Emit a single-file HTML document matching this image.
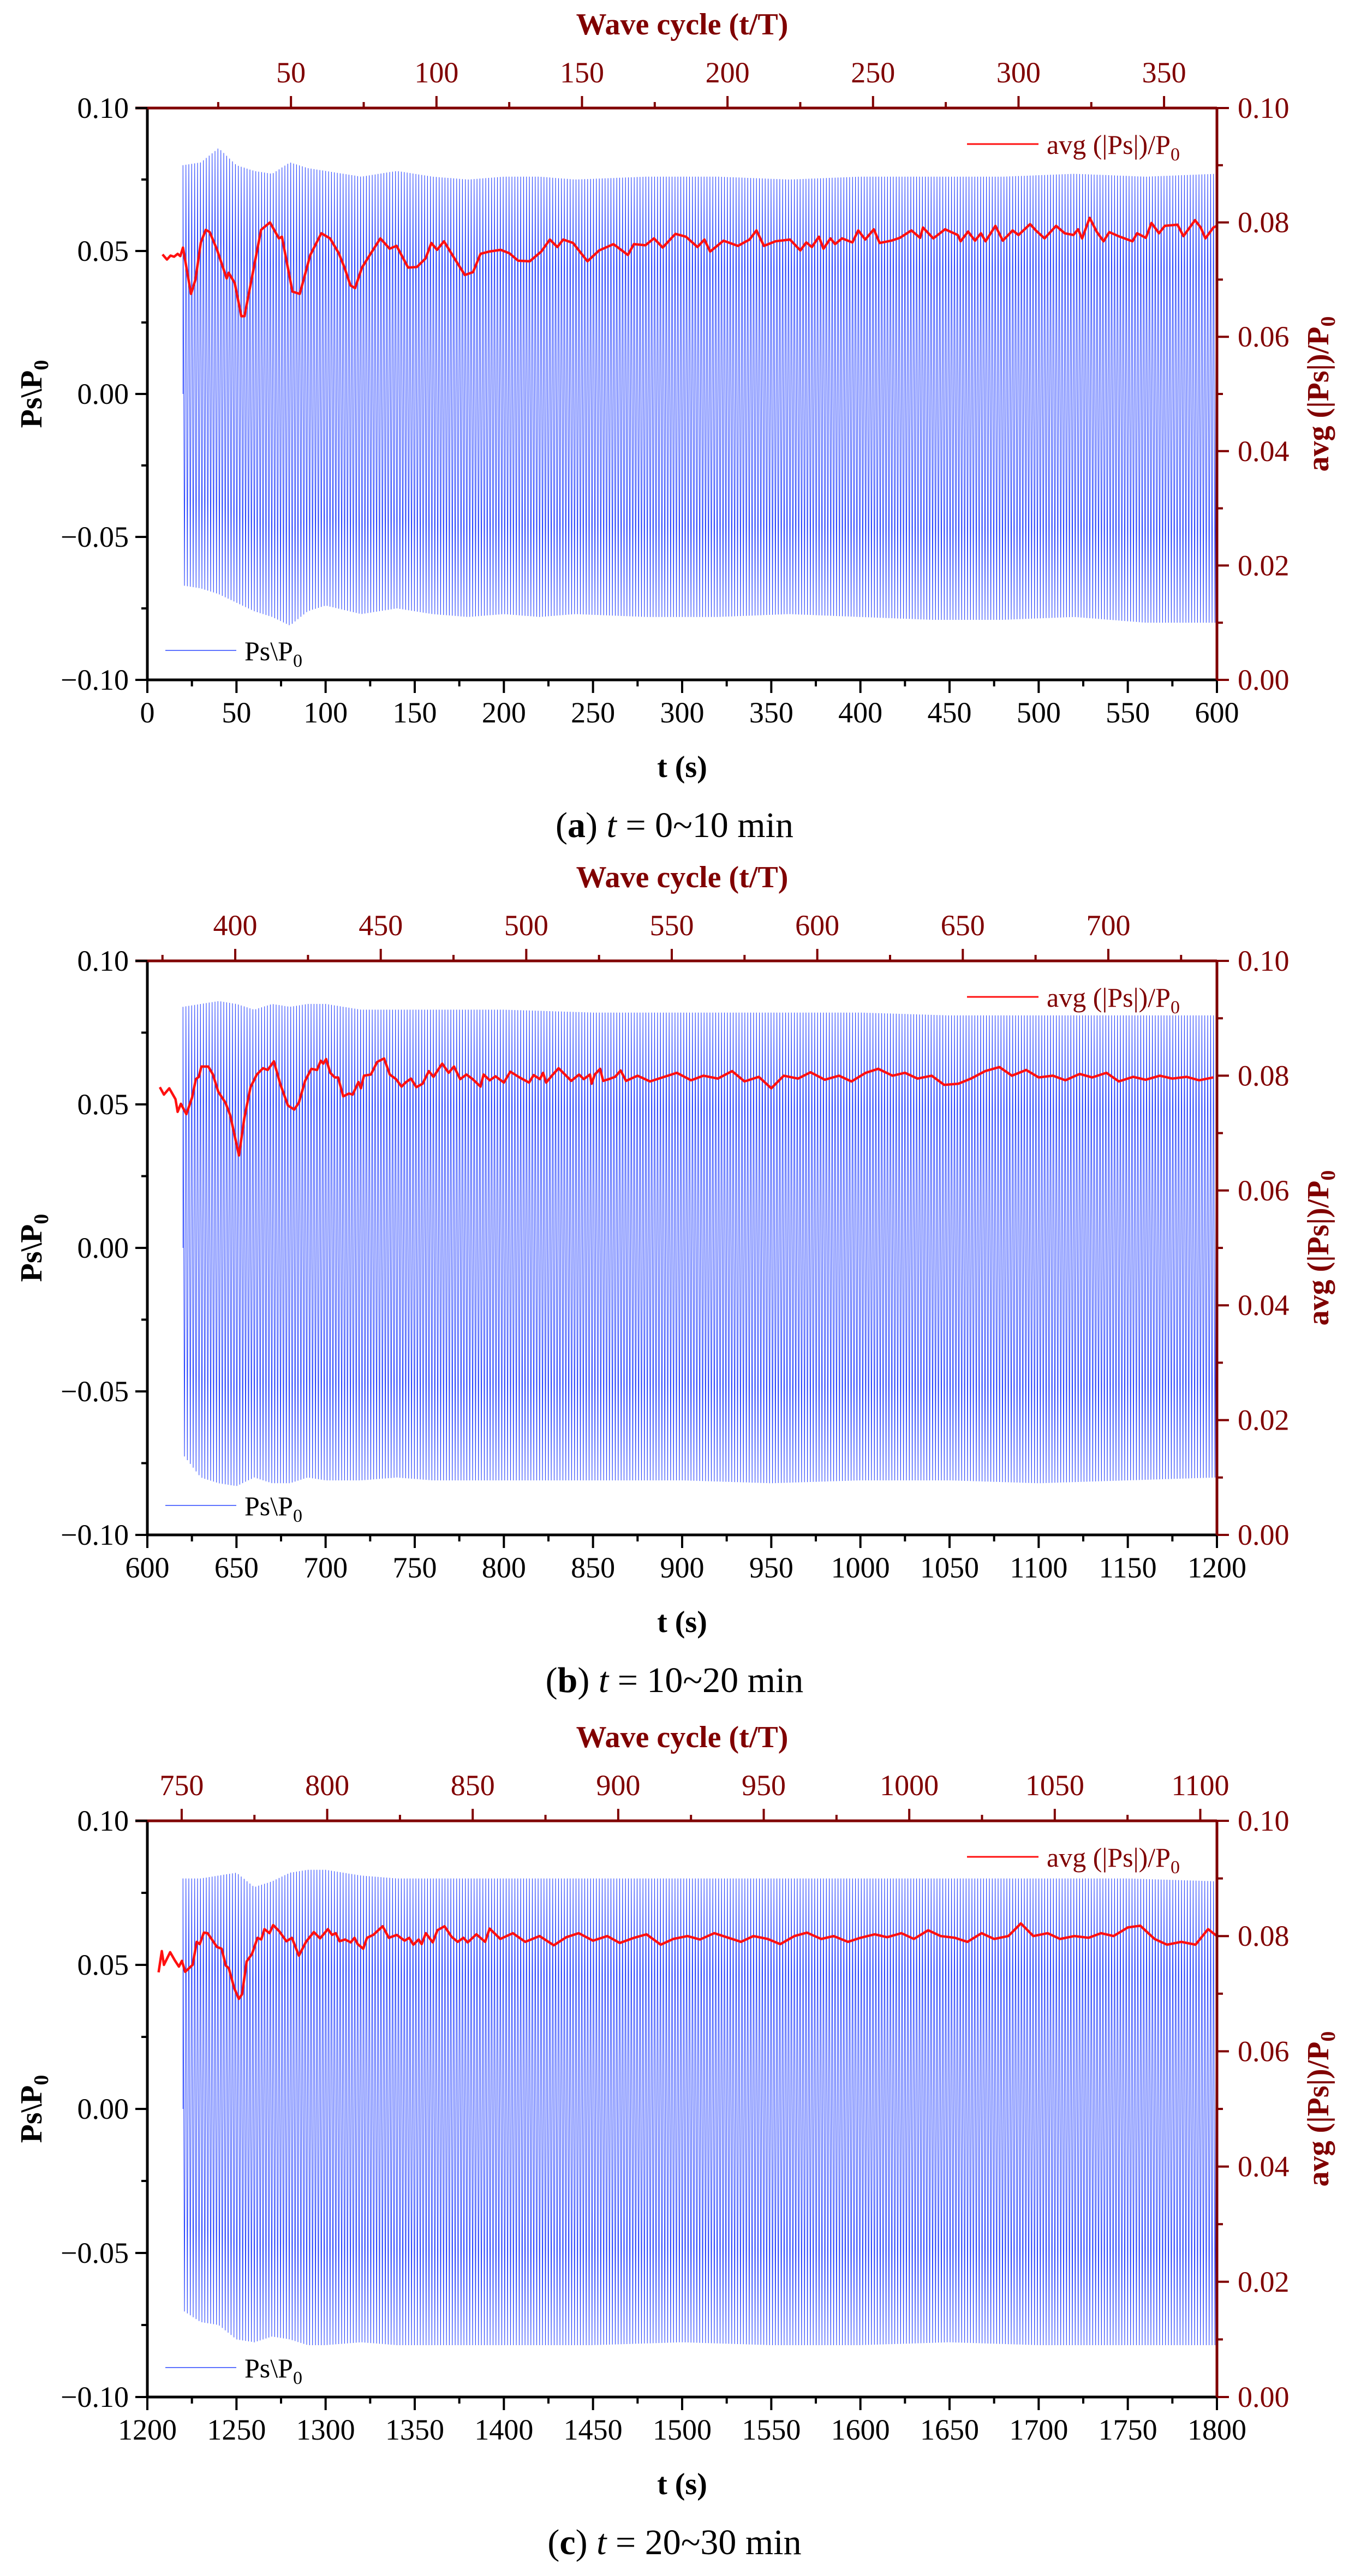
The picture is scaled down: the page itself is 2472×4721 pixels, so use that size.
<!DOCTYPE html>
<html><head><meta charset="utf-8"><style>
html,body{margin:0;padding:0;background:#fff}
svg{display:block}
text{font-family:"Liberation Serif",serif}
</style></head><body>
<svg id="fig" width="2472" height="4721" viewBox="0 0 2472 4721" xmlns="http://www.w3.org/2000/svg"></svg>
<script>
// ---------- data ----------
const periodT = 1.633;
// Panel (a)
const aAvgT = [8.5,11,13,15,17,18.5,20,24.5,27,30,32.8,35,39,44.5,45.6,49,52.7,54.5,63.8,68.8,73.8,75.5,81.4,85.5,91.4,97.6,102.5,107.4,110.6,113.9,116.5,120.4,125.2,130.7,135.9,139.8,146.3,151.2,156.1,159.3,162.5,166.4,172.3,178.1,182.7,186.9,191.8,198.2,203.1,208,214.5,221,225.8,230,233.3,238.8,246.9,253.4,261.5,269.6,272.9,279.4,284.2,289.1,296.2,302.1,308.6,312.5,315.7,323.2,331.3,337.8,341.7,345.9,352.4,360.5,366.3,369.6,372.8,376.7,379.3,383.2,385.8,389.7,395.5,398.8,402.7,407.5,410.8,417.3,422.1,428.6,433.5,435.1,440.9,447.5,454.6,456.2,460.4,464.3,467.6,470.2,475.7,479.9,485.4,488.7,495.2,498.4,503.3,509.8,514.6,519.5,522.1,524.4,528.6,532.5,536.4,539.6,545.5,552.6,555.2,560.1,563.3,567.5,570.8,577.9,581.2,587.7,590.9,593.5,598,600];
const aAvgV = [0.0744,0.0735,0.0742,0.0740,0.0745,0.0741,0.0756,0.0675,0.0700,0.0765,0.0787,0.0783,0.0753,0.0702,0.0712,0.0694,0.0636,0.0636,0.0787,0.0800,0.0772,0.0775,0.0679,0.0675,0.0743,0.0781,0.0772,0.0746,0.0721,0.0690,0.0685,0.0721,0.0745,0.0772,0.0754,0.0759,0.0721,0.0722,0.0737,0.0764,0.0752,0.0767,0.0737,0.0708,0.0713,0.0745,0.0749,0.0752,0.0746,0.0733,0.0732,0.0749,0.0770,0.0757,0.0770,0.0764,0.0732,0.0751,0.0762,0.0743,0.0762,0.0760,0.0772,0.0756,0.0780,0.0775,0.0757,0.0770,0.0749,0.0768,0.0759,0.0770,0.0786,0.0759,0.0767,0.0770,0.0751,0.0765,0.0757,0.0775,0.0754,0.0772,0.0762,0.0772,0.0765,0.0786,0.0770,0.0788,0.0764,0.0768,0.0773,0.0786,0.0773,0.0791,0.0772,0.0788,0.0778,0.0767,0.0784,0.0768,0.0781,0.0767,0.0794,0.0768,0.0786,0.0778,0.0797,0.0786,0.0772,0.0794,0.0781,0.0778,0.0788,0.0772,0.0808,0.0784,0.0767,0.0783,0.0775,0.0767,0.0781,0.0773,0.0799,0.0781,0.0794,0.0796,0.0776,0.0804,0.0791,0.0772,0.0791,0.0794];
const aEnvT = [20,30,40,50,60,70,80,90,100,120,140,160,180,200,220,240,280,320,360,400,440,480,520,560,600];
const aUpper = [0.080,0.081,0.086,0.080,0.078,0.077,0.081,0.079,0.078,0.076,0.078,0.076,0.075,0.076,0.076,0.075,0.076,0.076,0.075,0.076,0.076,0.076,0.077,0.076,0.077];
const aLower = [-0.067,-0.068,-0.070,-0.073,-0.076,-0.078,-0.081,-0.076,-0.074,-0.077,-0.075,-0.077,-0.078,-0.077,-0.078,-0.077,-0.078,-0.078,-0.077,-0.078,-0.079,-0.079,-0.078,-0.080,-0.080];
// Panel (b)
const bAvgT = [607,609.3,612.3,615.8,617,618.8,621.9,625.1,627.2,628.9,630.3,634.2,636.8,639.8,643.8,646.5,651.4,654.4,657.9,661.4,664.9,667.5,671,674.5,678.9,682.4,685,688.5,692,695.2,697.3,698.7,700.3,702.6,705.2,707,709.9,713.1,715.2,718.4,719.8,721.5,725.4,728.9,732.8,736,739.5,742.6,744.8,747.9,750.9,754.4,757.9,760.5,765.4,769,772,775.5,779,782.5,786.9,788.6,792.1,795.3,800,803.6,808.8,814.1,816.7,820.2,822,823.7,827.2,830.7,837.8,842.2,844.8,848.3,849.2,851,854,855.7,858.9,862.4,865.5,868.5,875,882,890,897,905,912,920,928,935,943,950,957,965,972,980,988,995,1003,1010,1018,1025,1032,1040,1047,1055,1062,1070,1078,1085,1093,1100,1108,1115,1123,1130,1138,1145,1153,1160,1168,1175,1183,1190,1198];
const bAvgV = [0.0780,0.0767,0.0778,0.0759,0.0737,0.0751,0.0733,0.0762,0.0794,0.0798,0.0816,0.0816,0.0802,0.0772,0.0753,0.0731,0.0661,0.0726,0.0780,0.0802,0.0813,0.0810,0.0825,0.0786,0.0748,0.0741,0.0753,0.0791,0.0812,0.0810,0.0826,0.0821,0.0829,0.0805,0.0797,0.0797,0.0764,0.0769,0.0767,0.0789,0.0778,0.0800,0.0802,0.0824,0.0830,0.0802,0.0794,0.0781,0.0788,0.0795,0.0780,0.0786,0.0808,0.0798,0.0821,0.0805,0.0816,0.0794,0.0802,0.0794,0.0781,0.0802,0.0792,0.0799,0.0788,0.0807,0.0797,0.0788,0.0801,0.0794,0.0805,0.0788,0.0801,0.0813,0.0791,0.0802,0.0794,0.0802,0.0786,0.0802,0.0812,0.0791,0.0794,0.0798,0.0809,0.0791,0.0800,0.0790,0.0798,0.0805,0.0792,0.0800,0.0795,0.0808,0.0790,0.0798,0.0778,0.0800,0.0795,0.0806,0.0793,0.0800,0.0790,0.0805,0.0812,0.0800,0.0805,0.0795,0.0800,0.0784,0.0786,0.0795,0.0808,0.0815,0.0800,0.0810,0.0797,0.0800,0.0792,0.0803,0.0797,0.0805,0.0790,0.0798,0.0793,0.0800,0.0795,0.0798,0.0792,0.0797];
const bEnvT = [620,630,640,650,660,670,680,690,700,720,740,760,800,850,900,950,1000,1050,1100,1150,1200];
const bUpper = [0.084,0.085,0.086,0.085,0.083,0.085,0.084,0.085,0.085,0.083,0.083,0.083,0.083,0.082,0.082,0.082,0.082,0.081,0.081,0.081,0.081];
const bLower = [-0.072,-0.080,-0.082,-0.083,-0.080,-0.082,-0.082,-0.080,-0.081,-0.081,-0.080,-0.081,-0.081,-0.081,-0.081,-0.082,-0.081,-0.081,-0.082,-0.081,-0.080];
// Panel (c)
const cAvgT = [1206.3,1208.1,1209.3,1212.8,1215.4,1217.7,1219.4,1221.2,1225.4,1227.7,1229.4,1231.7,1233.8,1239.1,1241.7,1244,1245.7,1248.7,1251.3,1253.1,1255.7,1258.7,1261.8,1263.9,1265.7,1268.5,1270.6,1274.1,1278,1281.1,1285,1289,1293.4,1296.9,1301.3,1303.6,1305.7,1307.8,1310.9,1314.1,1316.2,1318,1321.1,1323.2,1326.7,1332,1335.5,1339.9,1344.3,1346.9,1349.2,1352.2,1353.9,1356.2,1360.1,1362.7,1366.7,1370.6,1374.1,1377.3,1379.7,1384.6,1389.5,1392,1398,1405,1412,1420,1428,1435,1442,1450,1458,1465,1473,1480,1488,1495,1503,1510,1518,1525,1533,1540,1548,1555,1563,1570,1578,1585,1593,1600,1608,1615,1623,1630,1638,1645,1653,1660,1668,1675,1683,1690,1697,1705,1712,1720,1728,1735,1742,1750,1757,1765,1772,1780,1788,1795,1800];
const cAvgV = [0.0737,0.0774,0.0750,0.0772,0.0758,0.0747,0.0757,0.0738,0.0750,0.0790,0.0786,0.0806,0.0805,0.0781,0.0778,0.0749,0.0744,0.0710,0.0691,0.0699,0.0756,0.0769,0.0797,0.0794,0.0812,0.0805,0.0819,0.0808,0.0791,0.0797,0.0766,0.0790,0.0807,0.0796,0.0812,0.0802,0.0805,0.0791,0.0794,0.0789,0.0797,0.0786,0.0778,0.0797,0.0802,0.0817,0.0797,0.0802,0.0792,0.0797,0.0785,0.0794,0.0786,0.0805,0.0789,0.0810,0.0817,0.0799,0.0790,0.0797,0.0789,0.0803,0.0790,0.0813,0.0795,0.0805,0.0790,0.0800,0.0784,0.0798,0.0805,0.0792,0.0800,0.0788,0.0797,0.0803,0.0785,0.0795,0.0800,0.0794,0.0805,0.0798,0.0790,0.0800,0.0795,0.0786,0.0800,0.0806,0.0795,0.0800,0.0790,0.0797,0.0803,0.0798,0.0805,0.0795,0.0810,0.0800,0.0797,0.0790,0.0805,0.0795,0.0800,0.0822,0.0800,0.0805,0.0795,0.0800,0.0797,0.0805,0.0800,0.0815,0.0818,0.0795,0.0785,0.0790,0.0785,0.0812,0.0800];
const cEnvT = [1220,1230,1240,1250,1260,1270,1280,1290,1300,1320,1340,1360,1400,1450,1500,1550,1600,1650,1700,1750,1800];
const cUpper = [0.080,0.080,0.081,0.082,0.077,0.079,0.082,0.083,0.083,0.081,0.080,0.080,0.080,0.080,0.080,0.080,0.080,0.080,0.080,0.080,0.079];
const cLower = [-0.070,-0.074,-0.075,-0.080,-0.081,-0.079,-0.080,-0.082,-0.082,-0.081,-0.082,-0.082,-0.082,-0.082,-0.081,-0.082,-0.082,-0.081,-0.082,-0.082,-0.082];

const leftTicks = ["-0.10","-0.05","0.00","0.05","0.10"];
const rightTicks = ["0.00","0.02","0.04","0.06","0.08","0.10"];
const captions = ["a","b","c"];
const captionRanges = ["0~10","10~20","20~30"];

// ---------- drawing ----------
const NS = "http://www.w3.org/2000/svg";
const svg = document.getElementById("fig");
const DARK = "#800000";
function el(tag, attrs, parent, txt){
  const e = document.createElementNS(NS, tag);
  for (const k in attrs) e.setAttribute(k, attrs[k]);
  if (txt !== undefined) e.textContent = txt;
  (parent || svg).appendChild(e);
  return e;
}
function interp(xs, ys, x){
  if (x <= xs[0]) return ys[0];
  for (let i=1;i<xs.length;i++){
    if (x <= xs[i]){ const f=(x-xs[i-1])/(xs[i]-xs[i-1]); return ys[i-1]+f*(ys[i]-ys[i-1]); }
  }
  return ys[ys.length-1];
}

const panels = [
  {top:198, bot:1246, t0:0, c0:0.65, avgT:aAvgT, avgV:aAvgV, envT:aEnvT, up:aUpper, lo:aLower, cyc:[50,100,150,200,250,300,350]},
  {top:1761, bot:2813, t0:600, c0:369.8, avgT:bAvgT, avgV:bAvgV, envT:bEnvT, up:bUpper, lo:bLower, cyc:[400,450,500,550,600,650,700]},
  {top:3337, bot:4393, t0:1200, c0:738.2, avgT:cAvgT, avgV:cAvgV, envT:cEnvT, up:cUpper, lo:cLower, cyc:[750,800,850,900,950,1000,1050,1100]}
];
const L = 270, R = 2230;

panels.forEach((p, pi) => {
  const g = el("g", {});
  
  
  const xS = t => L + (t - p.t0) / 600 * (R - L);
  const yL = v => p.top + (0.10 - v) / 0.20 * (p.bot - p.top);
  const yR = v => p.top + (0.10 - v) / 0.10 * (p.bot - p.top);
  const xC = c => L + (c - p.c0) * 5.333;

  // blue signal
  const pts = [];
  const start = p.envT[0];
  pts.push(xS(start).toFixed(1) + "," + yL(0).toFixed(1));
  for (let k=0; ; k++){
    const t = start + k * periodT / 2;
    if (t > p.t0 + 600) break;
    const v = (k % 2 === 0) ? interp(p.envT, p.up, t) : interp(p.envT, p.lo, t);
    pts.push(xS(t).toFixed(1) + "," + yL(v).toFixed(1));
  }
  const blue = el("polyline", {points: pts.join(" "), fill:"none", stroke:"#2a46ff", "stroke-width":"1.1"}, g);
  
  

  // red avg
  const rp = p.avgT.map((t,i) => xS(t).toFixed(1) + "," + yR(p.avgV[i]).toFixed(1));
  const red = el("polyline", {points: rp.join(" "), fill:"none", stroke:"#ff1010", "stroke-width":"4.5", "stroke-linejoin":"round"}, g);
  
  

  // axes
  el("line", {x1:L, y1:p.bot, x2:R, y2:p.bot, stroke:"#000", "stroke-width":5}, g);
  el("line", {x1:L, y1:p.top-2, x2:L, y2:p.bot+2, stroke:"#000", "stroke-width":5}, g);
  el("line", {x1:L-22, y1:p.top, x2:R, y2:p.top, stroke:DARK, "stroke-width":5}, g);
  el("line", {x1:R, y1:p.top, x2:R, y2:p.bot, stroke:DARK, "stroke-width":5}, g);

  // bottom ticks
  for (let i=0;i<=24;i++){
    const t = p.t0 + i*25, x = xS(t), maj = i%2===0;
    el("line", {x1:x, y1:p.bot, x2:x, y2:p.bot+(maj?24:12), stroke:"#000", "stroke-width":4}, g);
    if (maj){
      const tl = el("text", {x:x, y:p.bot+78, "font-size":54, "text-anchor":"middle", fill:"#000"}, g, String(t));
      
      
    }
  }
  // left ticks
  for (let i=0;i<=8;i++){
    const v = -0.10 + i*0.025, y = yL(v), maj = i%2===0;
    el("line", {x1:L-(maj?22:11), y1:y, x2:L, y2:y, stroke:"#000", "stroke-width":4}, g);
    if (maj){
      const tl = el("text", {x:236, y:y+18, "font-size":54, "text-anchor":"end", fill:"#000"}, g, leftTicks[i/2].replace("-","\u2212"));
      
      
    }
  }
  // right ticks
  for (let i=0;i<=10;i++){
    const v = i*0.01, y = yR(v), maj = i%2===0;
    el("line", {x1:R, y1:y, x2:R+(maj?22:11), y2:y, stroke:DARK, "stroke-width":4}, g);
    if (maj){
      const tl = el("text", {x:2268, y:y+18, "font-size":54, "text-anchor":"start", fill:DARK}, g, rightTicks[i/2]);
      
      
    }
  }
  // top ticks (wave cycle)
  const cStart = Math.ceil(p.c0/25)*25;
  for (let c=cStart; xC(c) <= R+1; c+=25){
    const x = xC(c), maj = c%50===0;
    el("line", {x1:x, y1:p.top, x2:x, y2:p.top-(maj?22:11), stroke:DARK, "stroke-width":4}, g);
  }
  p.cyc.forEach(c => {
    const tl = el("text", {x:xC(c), y:p.top-47, "font-size":54, "text-anchor":"middle", fill:DARK}, g, String(c));
    
    
  });

  // titles
  const tt = el("text", {x:1250, y:p.top-135, "font-size":56, "font-weight":"bold", "text-anchor":"middle", fill:DARK}, g, "Wave cycle (t/T)");
   
  const bt = el("text", {x:1250, y:p.bot+178, "font-size":56, "font-weight":"bold", "text-anchor":"middle", fill:"#000"}, g, "t (s)");
   
  const cy = (p.top+p.bot)/2;
  const lt = el("text", {x:0, y:0, "font-size":56, "font-weight":"bold", "text-anchor":"middle", fill:"#000", transform:`translate(76,${cy}) rotate(-90)`}, g);
   
  lt.innerHTML = 'Ps\\P<tspan font-size="38" dy="12">0</tspan>';
  const rt = el("text", {x:0, y:0, "font-size":56, "font-weight":"bold", "text-anchor":"middle", fill:DARK, transform:`translate(2434,${cy}) rotate(-90)`}, g);
   
  rt.innerHTML = 'avg (|Ps|)/P<tspan font-size="38" dy="12">0</tspan>';

  // legends
  const lg1 = el("g", {}, g);
   
  el("line", {x1:1772, y1:p.top+66, x2:1903, y2:p.top+66, stroke:"#ff1010", "stroke-width":3}, lg1);
  const l1t = el("text", {x:1918, y:p.top+84, "font-size":50, fill:DARK}, lg1);
  l1t.innerHTML = 'avg (|Ps|)/P<tspan font-size="34" dy="12">0</tspan>';
  const lg2 = el("g", {}, g);
   
  el("line", {x1:303, y1:p.bot-54, x2:433, y2:p.bot-54, stroke:"#2a46ff", "stroke-width":1.5}, lg2);
  const l2t = el("text", {x:448, y:p.bot-36, "font-size":50, fill:"#000"}, lg2);
  l2t.innerHTML = 'Ps\\P<tspan font-size="34" dy="12">0</tspan>';

  // caption
  const cap = el("text", {x:1236, y:p.bot+288, "font-size":66, "text-anchor":"middle", fill:"#000"}, g);
   
  cap.innerHTML = '(<tspan font-weight="bold">' + captions[pi] + '</tspan>) <tspan font-style="italic">t</tspan> = ' + captionRanges[pi] + ' min';
});
</script>
</body></html>
